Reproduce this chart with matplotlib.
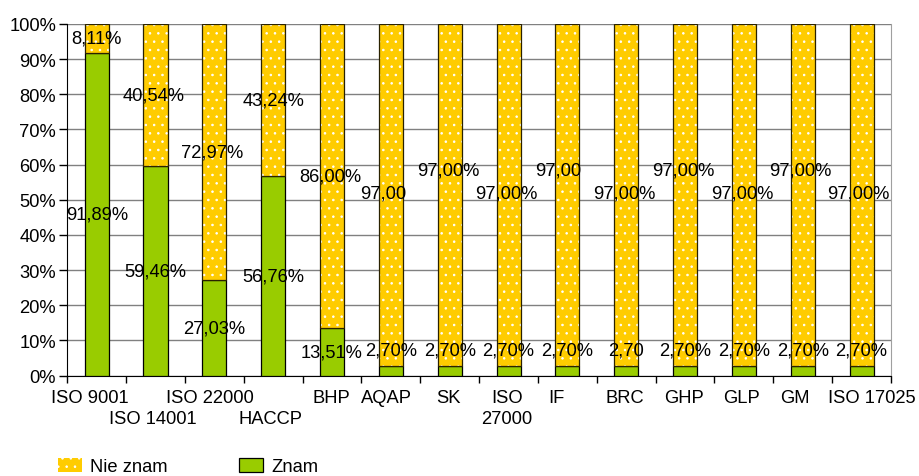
import matplotlib
matplotlib.use("Agg")
import matplotlib.pyplot as plt
from matplotlib.patches import Patch
import numpy as np

plt.rcParams['font.family'] = ['Liberation Sans', 'DejaVu Sans']
plt.rcParams['hatch.linewidth'] = 0.6

categories = ["ISO 9001", "ISO 14001", "ISO 22000", "HACCP", "BHP", "AQAP", "SK",
              "ISO 27000", "IF", "BRC", "GHP", "GLP", "GM", "ISO 17025"]
tick_labels = ["ISO 9001", "ISO 14001", "ISO 22000", "HACCP", "BHP", "AQAP", "SK",
               "ISO\n27000", "IF", "BRC", "GHP", "GLP", "GM", "ISO 17025"]
znam = [91.89, 59.46, 27.03, 56.76, 13.51, 2.70, 2.70, 2.70, 2.70, 2.70, 2.70, 2.70, 2.70, 2.70]
nie_znam = [8.11, 40.54, 72.97, 43.24, 86.00, 97.00, 97.00, 97.00, 97.00, 97.00, 97.00, 97.00, 97.00, 97.00]
# whether the data label shows the % sign
nie_pct = [True, True, True, True, True, False, True, True, False, True, True, True, True, True]
znam_pct = [True, True, True, True, True, True, True, True, True, False, True, True, True, True]

# label placement tweaks (percentage points / pixels)
nie_shift = [0, 0, 0, 0, 0, 0.6, 7, 0.6, 7, 0.6, 7, 0.6, 7, 0.6]
znam_shift = [0, 0, 0, 0, 0, 6, 6, 6, 6, 6, 6, 6, 6, 6]
nie_dx = [0, -2, -2, 0, -2, -8, -1, -2, -9, -2, -2, -2, -2, -3]
tick_row = [0, 1, 0, 1, 0, 0, 0, 0, 0, 0, 0, 0, 0, 0]
tick_dx = [-7, -2.6, -5, -2.4, -0.8, -4.2, -1.5, -1.4, -10.7, -1.5, -0.7, -2, -8, 10]

YELLOW = "#FFCC00"
GREEN = "#99CC00"
FS = 13.2
PX = 0.72  # points per pixel at 100 dpi

fig = plt.figure(figsize=(9.19, 4.77), dpi=100)
ax = fig.add_axes([67.3/919, 1-376.5/477, (891-67.3)/919, (376.5-25)/477])

x = np.arange(len(categories))
z = np.array(znam); n = np.array(nie_znam)
tot = z + n
zp = z / tot * 100
npct = n / tot * 100
w = 0.41

ax.bar(x, zp, w, color=GREEN, edgecolor="black", linewidth=0.9, zorder=3)
ax.bar(x, npct, w, bottom=zp, color=YELLOW, edgecolor="white", hatch="..", linewidth=0, zorder=3)
ax.bar(x, npct, w, bottom=zp, fill=False, edgecolor="#2a2200", linewidth=0.9, zorder=4)

ax.set_xlim(-0.5, len(categories)-0.5)
ax.set_ylim(0, 100)
ax.set_yticks(np.arange(0, 101, 10))
ax.set_yticklabels([f"{v}%" for v in range(0, 101, 10)], fontsize=FS)
ax.yaxis.grid(True, color="#808080", linewidth=1.0, zorder=0)
ax.set_axisbelow(True)

ax.set_xticks(x)
ax.set_xticklabels([""] * len(x))
ax.set_xticks(np.arange(-0.5, len(categories), 1), minor=True)
ax.tick_params(axis="x", which="major", length=0)
ax.tick_params(axis="x", which="minor", length=5, width=1, color="black")
ax.tick_params(axis="y", length=6, width=1, pad=2, color="black")
ax.spines["top"].set_visible(False)
ax.spines["right"].set_color("#a0a0a0")
ax.spines["left"].set_color("black")
ax.spines["bottom"].set_color("black")

for i, lbl in enumerate(tick_labels):
    ax.annotate(lbl, (x[i], 0), xycoords=("data", "axes fraction"),
                xytext=(tick_dx[i] * PX, -(13.5 + 21 * tick_row[i]) * PX),
                textcoords="offset points", ha="center", va="top",
                fontsize=FS, linespacing=1.3, annotation_clip=False)

def fmt(v, pct):
    s = f"{v:.2f}".replace(".", ",")
    return s + ("%" if pct else "")

for i in range(len(categories)):
    yc = zp[i] + npct[i] / 2 + nie_shift[i]
    ax.annotate(fmt(nie_znam[i], nie_pct[i]), (x[i], yc), xytext=(nie_dx[i] * PX, 0),
                textcoords="offset points", ha="center", va="center", fontsize=FS, zorder=6)
    yb = zp[i] / 2 + znam_shift[i]
    ax.annotate(fmt(znam[i], znam_pct[i]), (x[i], yb), xytext=(0, 0),
                textcoords="offset points", ha="center", va="center", fontsize=FS, zorder=6)

handles = [Patch(facecolor=YELLOW, edgecolor="white", hatch="..", linewidth=0),
           Patch(facecolor=GREEN, edgecolor="black", linewidth=0.9)]
leg = fig.legend(handles, ["Nie znam", "Znam"], loc="center left",
                 bbox_to_anchor=(58/919, 1-467.5/477), ncol=2, frameon=False,
                 fontsize=FS, handlelength=1.3, handleheight=0.85, handletextpad=0.45,
                 columnspacing=3.9, borderpad=0, borderaxespad=0)
fig.savefig("out.png", dpi=100)
